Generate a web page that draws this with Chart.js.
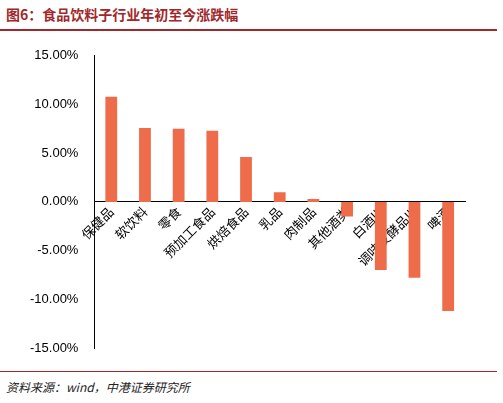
<!DOCTYPE html>
<html><head><meta charset="utf-8">
<script src="https://cdn.jsdelivr.net/npm/chart.js@4"></script>
<style>
body{margin:0;width:503px;height:403px;background:#fff;position:relative;overflow:hidden;font-family:"Noto Sans CJK SC",sans-serif}
#title{position:absolute;left:6px;top:4px;font-size:14px;font-weight:bold;color:#A0282A}
#top{position:absolute;left:0;right:6px;top:29px;border-top:2px solid #A0282A}
#bot{position:absolute;left:0;right:6px;top:371px;border-top:1px solid #A0282A}
#src{position:absolute;left:6px;top:378px;font-size:12px;font-style:italic;color:#222}
#wrap{position:absolute;left:0;top:40px;width:503px;height:325px}
</style></head><body>
<div id="title">图6：食品饮料子行业年初至今涨跌幅</div>
<div id="top"></div>
<div id="wrap"><canvas id="myChart"></canvas></div>
<div id="bot"></div>
<div id="src">资料来源：wind，中港证券研究所</div>
<script>
const categories = ['保健品', '软饮料', '零食', '预加工食品', '烘焙食品', '乳品', '肉制品', '其他酒类', '白酒III', '调味发酵品III', '啤酒'];
const changes = [10.8, 7.6, 7.5, 7.3, 4.6, 1.0, 0.3, -1.5, -7.0, -7.8, -11.2];
const yTicks = [-15, -10, -5, 0, 5, 10, 15];

const ctx = document.getElementById('myChart');
new Chart(ctx, {
    type: 'bar',
    data: {
        labels: categories,
        datasets: [{
            data: changes,
            backgroundColor: '#EE6C4A',
            barPercentage: 0.35,
            categoryPercentage: 1,
        }]
    },
    options: {
        responsive: true,
        maintainAspectRatio: false,
        animation: false,
        layout: {padding: {left: 22, right: 38, top: 10, bottom: 17}},
        plugins: {legend: {display: false}, tooltip: {enabled: false}},
        scales: {
            x: {
                position: {y: 0},
                grid: {display: false, drawTicks: false},
                border: {color: '#000'},
                ticks: {color: '#000', font: {size: 13, family: 'Noto Sans CJK SC'}, minRotation: 45, maxRotation: 45, padding: 2}
            },
            y: {
                min: -15, max: 15,
                afterBuildTicks: (s) => { s.ticks = yTicks.map(v => ({value: v})); },
                grid: {display: false},
                border: {color: '#000'},
                ticks: {color: '#000', font: {size: 13, family: 'Liberation Sans'}, padding: 8,
                    callback: (v) => v.toFixed(2) + '%'}
            }
        }
    }
});
</script>
</body></html>
